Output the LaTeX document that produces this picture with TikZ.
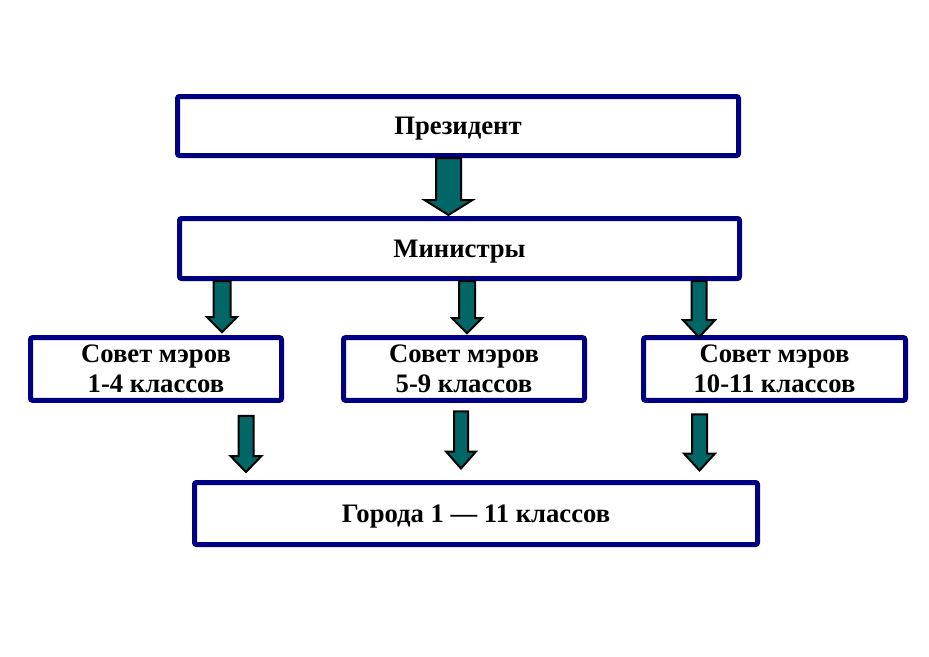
\documentclass[tikz,border=0pt]{standalone}
\usepackage{fontspec}
\setmainfont{Liberation Serif}
\usetikzlibrary{positioning,calc}

\definecolor{boxnavy}{RGB}{0,0,128}
\definecolor{arrteal}{RGB}{0,102,102}

\tikzset{
  levelbox/.style={draw=boxnavy, line width=3.75pt, rounded corners=1.5pt, fill=white,
    inner sep=0pt, text depth=0pt, align=center, font=\fontsize{20}{22.5}\selectfont\bfseries},
  blockarr/.style={draw=black, line width=1.5pt, fill=arrteal, line join=miter}
}

% x, from, to, shaft half width, head half width, head length (px)
\newcommand{\blockarr}[6]{%
  \draw[blockarr] let \p1=(#1,0), \p2=(#2), \p3=(#3) in
    (\x1-#4*0.75pt,\y2) -- (\x1+#4*0.75pt,\y2) -- (\x1+#4*0.75pt,\y3+#6*0.75pt)
    -- (\x1+#5*0.75pt,\y3+#6*0.75pt) -- (\x1,\y3) -- (\x1-#5*0.75pt,\y3+#6*0.75pt)
    -- (\x1-#4*0.75pt,\y3+#6*0.75pt) -- cycle;}

\begin{document}
\begin{tikzpicture}[x=0.75pt,y=-0.75pt]
\useasboundingbox (0,0) rectangle (929,657);

\node[levelbox, minimum width=420.75pt, minimum height=44.25pt] (pres) at (458,126) {Президент};
\node[levelbox, minimum width=420pt, minimum height=45pt] (mins) at (459.5,248.5) {Министры};
\node[levelbox, minimum width=188.25pt, minimum height=47pt] (s1) at (156,369) {Совет мэров\\ 1-4 классов};
\node[levelbox, minimum width=180.75pt, minimum height=47pt] (s2) at (464,369) {Совет мэров\\ 5-9 классов};
\node[levelbox, minimum width=196.5pt, minimum height=47pt] (s3) at (774.5,369) {Совет мэров\\ 10-11 классов};
\node[levelbox, minimum width=422.25pt, minimum height=46.5pt] (bot) at (476,513.5) {Города 1 — 11 классов};

% arrows
\blockarr{448.5}{pres.south}{$(mins.north)+(0,-1)$}{12.5}{24}{15}
\blockarr{222}{mins.south}{$(s1.north)+(0,-3)$}{8.5}{15}{15}
\blockarr{467}{mins.south}{$(s2.north)+(0,-2)$}{8}{15}{15}
\blockarr{699}{mins.south}{$(s3.north)+(0,2)$}{7.5}{16}{17}
\blockarr{246}{$(s1.south)+(0,13)$}{$(bot.north)+(0,-8)$}{7.5}{15.5}{16}
\blockarr{461}{$(s2.south)+(0,8.5)$}{$(bot.north)+(0,-11.5)$}{7}{15}{17}
\blockarr{699.5}{$(s3.south)+(0,11.5)$}{$(bot.north)+(0,-9.5)$}{7.5}{15.5}{17}
\end{tikzpicture}
\end{document}
